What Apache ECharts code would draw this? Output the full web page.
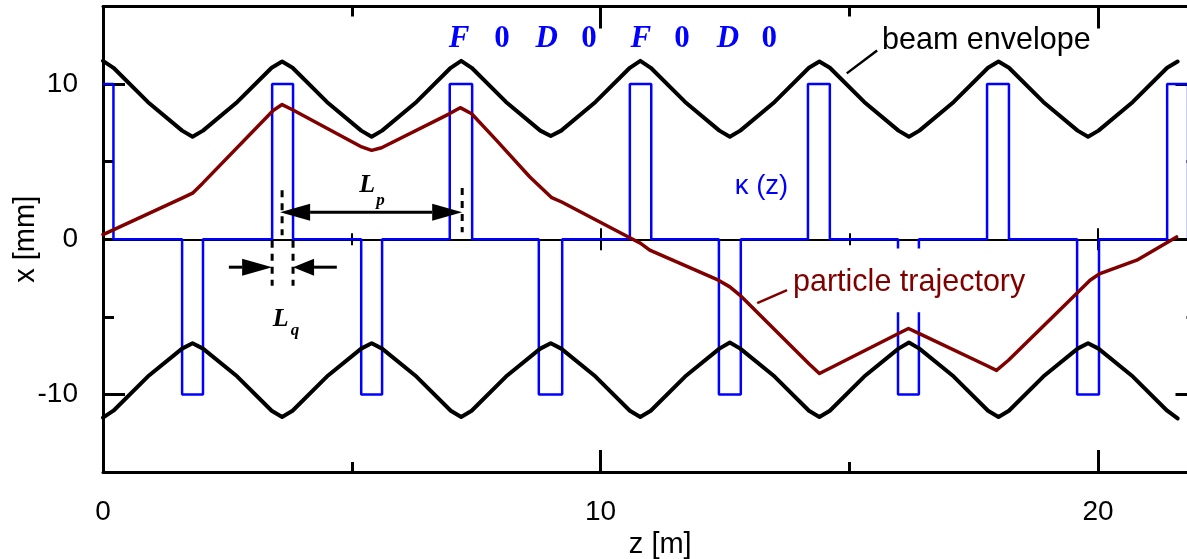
<!DOCTYPE html>
<html style="height: 100%">
<head>
    <meta charset="utf-8">
</head>
<body style="height: 100%; margin: 0">
<div id="container" style="width: 1187px; height: 559px"></div>
<script type="text/javascript" src="https://cdn.jsdelivr.net/npm/echarts@6/dist/echarts.min.js"></script>
<script type="text/javascript">
    // focusing strength kappa(z): corners of the quadrupole steps (null = gap in the drawing)
    const kappaZ = [0, 0.21, 0.21,
        1.59, 1.59, 2.01, 2.01, 3.40, 3.40, 3.82, 3.82,
        5.19, 5.19, 5.61, 5.61, 6.97, 6.97, 7.42, 7.42,
        8.76, 8.76, 9.23, 9.23, 10.59, 10.59, 11.02, 11.02,
        12.38, 12.38, 12.82, 12.82, 14.17, 14.17, 14.61, 14.61,
        15.98, 15.98, 15.98, 15.98, 15.98, 16.40, 16.40, 16.40, 16.40, 16.40,
        17.77, 17.77, 18.21, 18.21,
        19.58, 19.58, 20.02, 20.02, 21.39, 21.39, 21.81, 21.81, 22];
    const kappaK = [10, 10, 0,
        0, -10, -10, 0, 0, 10, 10, 0,
        0, -10, -10, 0, 0, 10, 10, 0,
        0, -10, -10, 0, 0, 10, 10, 0,
        0, -10, -10, 0, 0, 10, 10, 0,
        0, -0.6, null, -4.7, -10, -10, -4.7, null, -0.6, 0,
        0, 10, 10, 0,
        0, -10, -10, 0, 0, 10, 10, 0, 0];

    // beam envelope
    const envZ = [0, 0.21, 0.9, 1.59, 1.8, 2.01, 2.7, 3.39,
        3.6, 3.81, 4.5, 5.19, 5.4, 5.61, 6.3, 6.99,
        7.2, 7.41, 8.1, 8.79, 9.0, 9.21, 9.9, 10.59,
        10.8, 11.01, 11.7, 12.39, 12.6, 12.81, 13.5, 14.19,
        14.4, 14.61, 15.3, 15.99, 16.2, 16.41, 17.1, 17.79,
        18.0, 18.21, 18.9, 19.59, 19.8, 20.01, 20.7, 21.39,
        21.6];
    const envUpper = [11.5, 11.05, 8.85, 7.0, 6.6, 7.0, 8.85, 11.05,
        11.45, 11.05, 8.85, 7.0, 6.6, 7.0, 8.85, 11.05,
        11.5, 11.05, 8.85, 7.0, 6.65, 7.0, 8.85, 11.05,
        11.5, 11.05, 8.85, 7.0, 6.6, 7.0, 8.85, 11.05,
        11.45, 11.05, 8.85, 7.0, 6.6, 7.0, 8.85, 11.05,
        11.45, 11.05, 8.85, 7.0, 6.6, 7.0, 8.85, 11.05,
        11.45];
    const envLower = [-11.5, -11.05, -8.85, -7.05, -6.7, -7.05, -8.85, -11.05,
        -11.45, -11.05, -8.85, -7.05, -6.7, -7.05, -8.85, -11.05,
        -11.45, -11.05, -8.85, -7.05, -6.7, -7.05, -8.85, -11.05,
        -11.45, -11.05, -8.85, -7.05, -6.65, -7.05, -8.85, -11.05,
        -11.45, -11.05, -8.85, -7.05, -6.65, -7.05, -8.85, -11.05,
        -11.45, -11.05, -8.85, -7.05, -6.7, -7.05, -8.85, -11.05,
        -11.55];

    // particle trajectory
    const trajZ = [0, 1.6, 1.8, 2.0, 3.42, 3.6, 3.8, 5.2, 5.4, 5.6, 6.97, 7.18, 7.41, 7.91, 8.58, 9.02, 9.22,
        10.59, 10.8, 10.99, 12.37, 12.6, 12.8, 14.2, 14.4, 14.65, 15.99, 16.19, 16.42,
        17.77, 17.96, 18.2, 19.57, 19.84, 20.04, 20.78, 21.58];
    const trajX = [0.3, 2.67, 2.97, 3.6, 8.3, 8.68, 8.36, 5.95, 5.73, 5.9, 8.1, 8.48, 8.09, 6.37, 4.01, 2.68, 2.4,
        0.1, -0.25, -0.7, -2.64, -3.07, -3.6, -8.05, -8.65, -8.25, -6.07, -5.75, -6.1,
        -8.15, -8.45, -7.8, -3.5, -2.64, -2.21, -1.35, 0.15];

    // ticks
    const zTicks = [0, 10, 20];
    const zMinorTicks = [5, 15];
    const xTicks = [-10, 0, 10];
    const xMinorTicks = [-5, 5];
    const zeroLineTicks = [10, 20];
    const zeroLineMinorTicks = [5, 15];

    // lattice labels over the plot
    const latticeLabels = ['F', '0', 'D', '0', 'F', '0', 'D', '0'];
    const latticeLabelZ = [7.16, 8.02, 8.92, 9.77, 10.81, 11.64, 12.56, 13.39];

    const W = 1187, H = 559;
    const gridTop = 6.5, gridBottom = 87, gridLeft = 103, gridRight = -10.5;
    const zMin = 0, zMax = 22, xMin = -15, xMax = 15;
    const zeroFromBottom = (H - gridTop - gridBottom) * (0 - xMin) / (xMax - xMin);

    const sans = '"Liberation Sans", Arial, sans-serif';
    const serif = '"Liberation Serif", "Times New Roman", serif';

    var dom = document.getElementById("container");
    var myChart = echarts.init(dom);

    function zip(a, b) {
        return a.map(function (v, i) { return [v, b[i]]; });
    }

    function zAxis(position, offset, ticks, len, tickWidth, lineWidth) {
        return {
            type: 'value', min: zMin, max: zMax, position: position, offset: offset,
            axisLine: { show: lineWidth > 0, onZero: false, lineStyle: { color: '#000', width: lineWidth } },
            axisTick: { show: ticks.length > 0, inside: true, length: len, customValues: ticks,
                lineStyle: { color: '#000', width: tickWidth } },
            axisLabel: { show: false },
            splitLine: { show: false }
        };
    }

    function xAxisV(position, ticks, len, lineWidth) {
        return {
            type: 'value', min: xMin, max: xMax, position: position,
            axisLine: { show: lineWidth > 0, onZero: false, lineStyle: { color: '#000', width: lineWidth } },
            axisTick: { show: true, inside: true, length: len, customValues: ticks,
                lineStyle: { color: '#000', width: 3 } },
            axisLabel: { show: false },
            splitLine: { show: false }
        };
    }

    const bottomAxis = zAxis('bottom', 0, zTicks, 22, 3, 3);
    bottomAxis.axisLabel = { show: true, customValues: zTicks, margin: 26,
        fontFamily: sans, fontSize: 28, color: '#000' };
    bottomAxis.name = 'z [m]';
    bottomAxis.nameLocation = 'middle';
    bottomAxis.nameGap = 58;
    bottomAxis.nameMoveOverlap = false;
    bottomAxis.nameTextStyle = { fontFamily: sans, fontSize: 29, color: '#000', padding: [0, 0, 0, 20] };

    const leftAxis = xAxisV('left', xTicks, 22, 3);
    leftAxis.axisLabel = { show: true, customValues: xTicks, margin: 25,
        fontFamily: sans, fontSize: 28, color: '#000' };
    leftAxis.name = 'x [mm]';
    leftAxis.nameLocation = 'middle';
    leftAxis.nameGap = 63;
    leftAxis.nameMoveOverlap = false;
    leftAxis.nameTextStyle = { fontFamily: sans, fontSize: 29, color: '#000' };

    var option = {
        animation: false,
        backgroundColor: '#fff',
        grid: { left: gridLeft, right: gridRight, top: gridTop, bottom: gridBottom,
            containLabel: false, outerBoundsMode: 'none' },
        xAxis: [
            bottomAxis,
            zAxis('bottom', 0, zMinorTicks, 10, 3, 0),
            zAxis('top', 0, zTicks, 22, 3, 3),
            zAxis('top', 0, zMinorTicks, 10, 3, 0),
            zAxis('bottom', -zeroFromBottom, [], 0, 2, 2),
            zAxis('bottom', -(zeroFromBottom - 11), zeroLineTicks, 22, 2, 0),
            zAxis('bottom', -(zeroFromBottom - 6), zeroLineMinorTicks, 12, 2, 0)
        ],
        yAxis: [
            leftAxis,
            xAxisV('left', xMinorTicks, 11, 0),
            xAxisV('right', xTicks, 22, 3),
            xAxisV('right', xMinorTicks, 11, 0)
        ],
        series: [
            {
                name: 'kappa', type: 'line', silent: true, symbol: 'none', showSymbol: false,
                connectNulls: false, z: 2,
                data: zip(kappaZ, kappaK),
                lineStyle: { color: '#0000ff', width: 2.5 }
            },
            {
                name: 'envelope upper', type: 'line', silent: true, symbol: 'none', showSymbol: false, z: 3,
                data: zip(envZ, envUpper),
                lineStyle: { color: '#000', width: 4, join: 'round', cap: 'round' }
            },
            {
                name: 'envelope lower', type: 'line', silent: true, symbol: 'none', showSymbol: false, z: 3,
                data: zip(envZ, envLower),
                lineStyle: { color: '#000', width: 4, join: 'round', cap: 'round' }
            },
            {
                name: 'trajectory', type: 'line', silent: true, symbol: 'none', showSymbol: false, z: 4,
                data: zip(trajZ, trajX),
                lineStyle: { color: '#800000', width: 3.5, join: 'round', cap: 'round' }
            }
        ]
    };

    myChart.setOption(option);

    // annotations placed in data units, converted to pixels once the grid is laid out
    function buildAnnotations() {
        const items = [];
        const toPx = function (p) { return myChart.convertToPixel({ xAxisIndex: 0, yAxisIndex: 0 }, p); };

        function seg(p, q, color, width, dash) {
            items.push({ type: 'line', z: 100, silent: true,
                shape: { x1: p[0], y1: p[1], x2: q[0], y2: q[1] },
                style: { stroke: color, lineWidth: width, lineDash: dash || null } });
        }
        function head(tip, from, len, half) {
            const dx = tip[0] - from[0], dy = tip[1] - from[1], d = Math.hypot(dx, dy);
            const ux = dx / d, uy = dy / d;
            const bx = tip[0] - ux * len, by = tip[1] - uy * len;
            items.push({ type: 'polygon', z: 100, silent: true,
                shape: { points: [tip, [bx - uy * half, by + ux * half], [bx + uy * half, by - ux * half]] },
                style: { fill: '#000' } });
            return [bx, by];
        }
        function text(str, at, font, color, align) {
            const p = toPx(at);
            items.push({ type: 'text', z: 100, silent: true, x: p[0], y: p[1],
                style: { text: str, font: font, fill: color, align: align || 'center', verticalAlign: 'middle' } });
        }

        // L_p double arrow between the focusing quads
        const a = toPx([3.56, 1.74]), b = toPx([7.22, 1.74]);
        const ba = head(a, b, 30, 8.5), bb = head(b, a, 30, 8.5);
        seg(ba, bb, '#000', 3);
        // L_q arrows pointing at the quad edges
        const l1 = toPx([2.53, -1.8]), l2 = toPx([3.40, -1.8]);
        seg(l1, head(l2, l1, 30, 8.5), '#000', 3);
        const r1 = toPx([4.70, -1.8]), r2 = toPx([3.82, -1.8]);
        seg(r1, head(r2, r1, 21, 8.5), '#000', 3);
        // dashed markers
        seg(toPx([3.6, 3.15]), toPx([3.6, 0.25]), '#000', 3, [7, 6]);
        seg(toPx([7.22, 3.3]), toPx([7.22, 0.45]), '#000', 3, [7, 6]);
        seg(toPx([3.40, -0.1]), toPx([3.40, -3.0]), '#000', 3, [7, 6]);
        seg(toPx([3.82, -0.1]), toPx([3.82, -3.0]), '#000', 3, [7, 6]);
        // pointers of the curve labels
        seg(toPx([14.95, 10.69]), toPx([15.56, 12.17]), '#000', 2.5);
        seg(toPx([13.15, -4.12]), toPx([13.75, -3.28]), '#800000', 2.5);

        text('beam envelope', [15.66, 12.78], '30.5px ' + sans, '#000', 'left');
        text('particle trajectory', [13.87, -2.8], '30.5px ' + sans, '#800000', 'left');
        text('\u03ba (z)', [12.70, 3.41], '27.5px ' + sans, '#0000ff', 'left');

        text('L', [5.31, 3.48], 'italic bold 26px ' + serif, '#000');
        text('p', [5.58, 2.51], 'italic bold 17px ' + serif, '#000');
        text('L', [3.57, -5.15], 'italic bold 26px ' + serif, '#000');
        text('q', [3.86, -5.92], 'italic bold 17px ' + serif, '#000');

        latticeLabels.forEach(function (s, i) {
            const font = (s === '0' ? 'bold ' : 'italic bold ') + '31px ' + serif;
            text(s, [latticeLabelZ[i], 12.88], font, '#0000ff');
        });
        return items;
    }

    myChart.setOption({ graphic: buildAnnotations() });
</script>
</body>
</html>
